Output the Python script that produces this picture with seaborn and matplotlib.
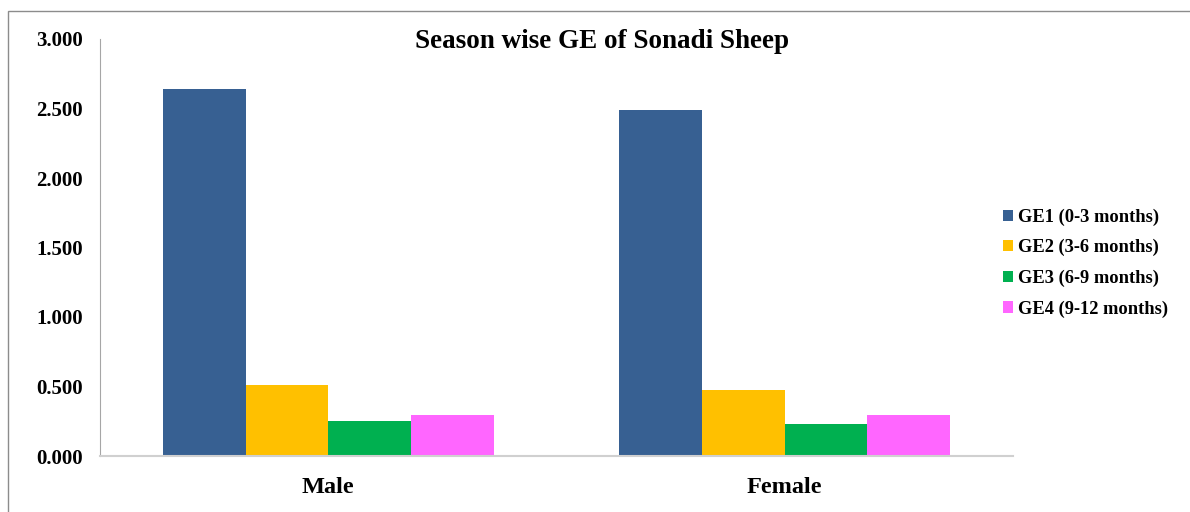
import matplotlib
matplotlib.use("Agg")
import matplotlib.pyplot as plt
import seaborn as sns
import pandas as pd
from matplotlib.patches import Rectangle

categories = ["Male", "Female"]
series_names = ["GE1 (0-3 months)", "GE2 (3-6 months)", "GE3 (6-9 months)", "GE4 (9-12 months)"]
ge1 = [2.640, 2.490]
ge2 = [0.514, 0.473]
ge3 = [0.252, 0.232]
ge4 = [0.295, 0.292]
colors = ["#376092", "#FFC000", "#00B050", "#FF66FF"]
y_ticks = [0.0, 0.5, 1.0, 1.5, 2.0, 2.5, 3.0]
title = "Season wise GE of Sonadi Sheep"

rows = []
for name, vals in zip(series_names, [ge1, ge2, ge3, ge4]):
    for c, v in zip(categories, vals):
        rows.append({"Sex": c, "Series": name, "GE": v})
df = pd.DataFrame(rows)

sns.set_style("white")
plt.rcParams["font.family"] = ["Liberation Serif", "DejaVu Serif"]
plt.rcParams["font.weight"] = "bold"
plt.rcParams["text.color"] = "black"
plt.rcParams["xtick.labelcolor"] = "black"
plt.rcParams["ytick.labelcolor"] = "black"

W, H = 1190, 512
fig = plt.figure(figsize=(W / 100, H / 100), dpi=100)
ax = fig.add_axes([100 / W, 1 - 456 / H, (1013 - 100) / W, (456 - 39) / H])

sns.barplot(data=df, x="Sex", y="GE", hue="Series", order=categories,
            hue_order=series_names, palette=colors, width=0.725,
            saturation=1, ax=ax, legend=True, edgecolor="none", linewidth=0)

ax.set_xlim(-0.5, 1.5)
ax.set_ylim(0, 3.0)
ax.set_yticks(y_ticks)
ax.set_yticklabels([f"{t:.3f}" for t in y_ticks], fontsize=15, fontweight="bold", color="black")
ax.set_xticks([0, 1])
ax.set_xticklabels(categories, fontsize=17.5, fontweight="bold", color="black")
ax.set_xticks([-0.5, 0.5, 1.5], minor=True)
ax.tick_params(axis="x", which="major", length=0, pad=15)
ax.tick_params(axis="x", which="minor", length=5, color="#d0d0d0", width=1.2, direction="out")
ax.tick_params(axis="y", which="major", length=3.6, color="#a6a6a6", width=0.8, direction="out", pad=9)
ax.set_xlabel("")
ax.set_ylabel("")
for s in ["top", "right"]:
    ax.spines[s].set_visible(False)
ax.spines["left"].set_color("#a6a6a6")
ax.spines["left"].set_linewidth(0.8)
ax.spines["bottom"].set_color("#d0d0d0")
ax.spines["bottom"].set_linewidth(1.5)
ax.grid(False)

handles, labels = ax.get_legend_handles_labels()
ax.get_legend().remove()
leg = fig.legend(handles, labels, loc="center left", bbox_to_anchor=(986 / W, 1 - 263 / H),
                 frameon=False, prop={"family": "Liberation Serif", "weight": "bold", "size": 13.3},
                 handlelength=0.55, handleheight=0.55, handletextpad=0.3, labelspacing=0.72)
for t in leg.get_texts():
    t.set_color("black")

fig.text(602 / W, 1 - 42 / H, title, ha="center", va="center",
         fontsize=19.5, fontweight="bold", color="black")

fig.patches.append(Rectangle((8 / W, -0.1), 1.2, 1 - 11 / H + 0.1, transform=fig.transFigure,
                             fill=False, edgecolor="#8c8c8c", linewidth=1.0, zorder=-1))

fig.savefig("out.png", dpi=100)
